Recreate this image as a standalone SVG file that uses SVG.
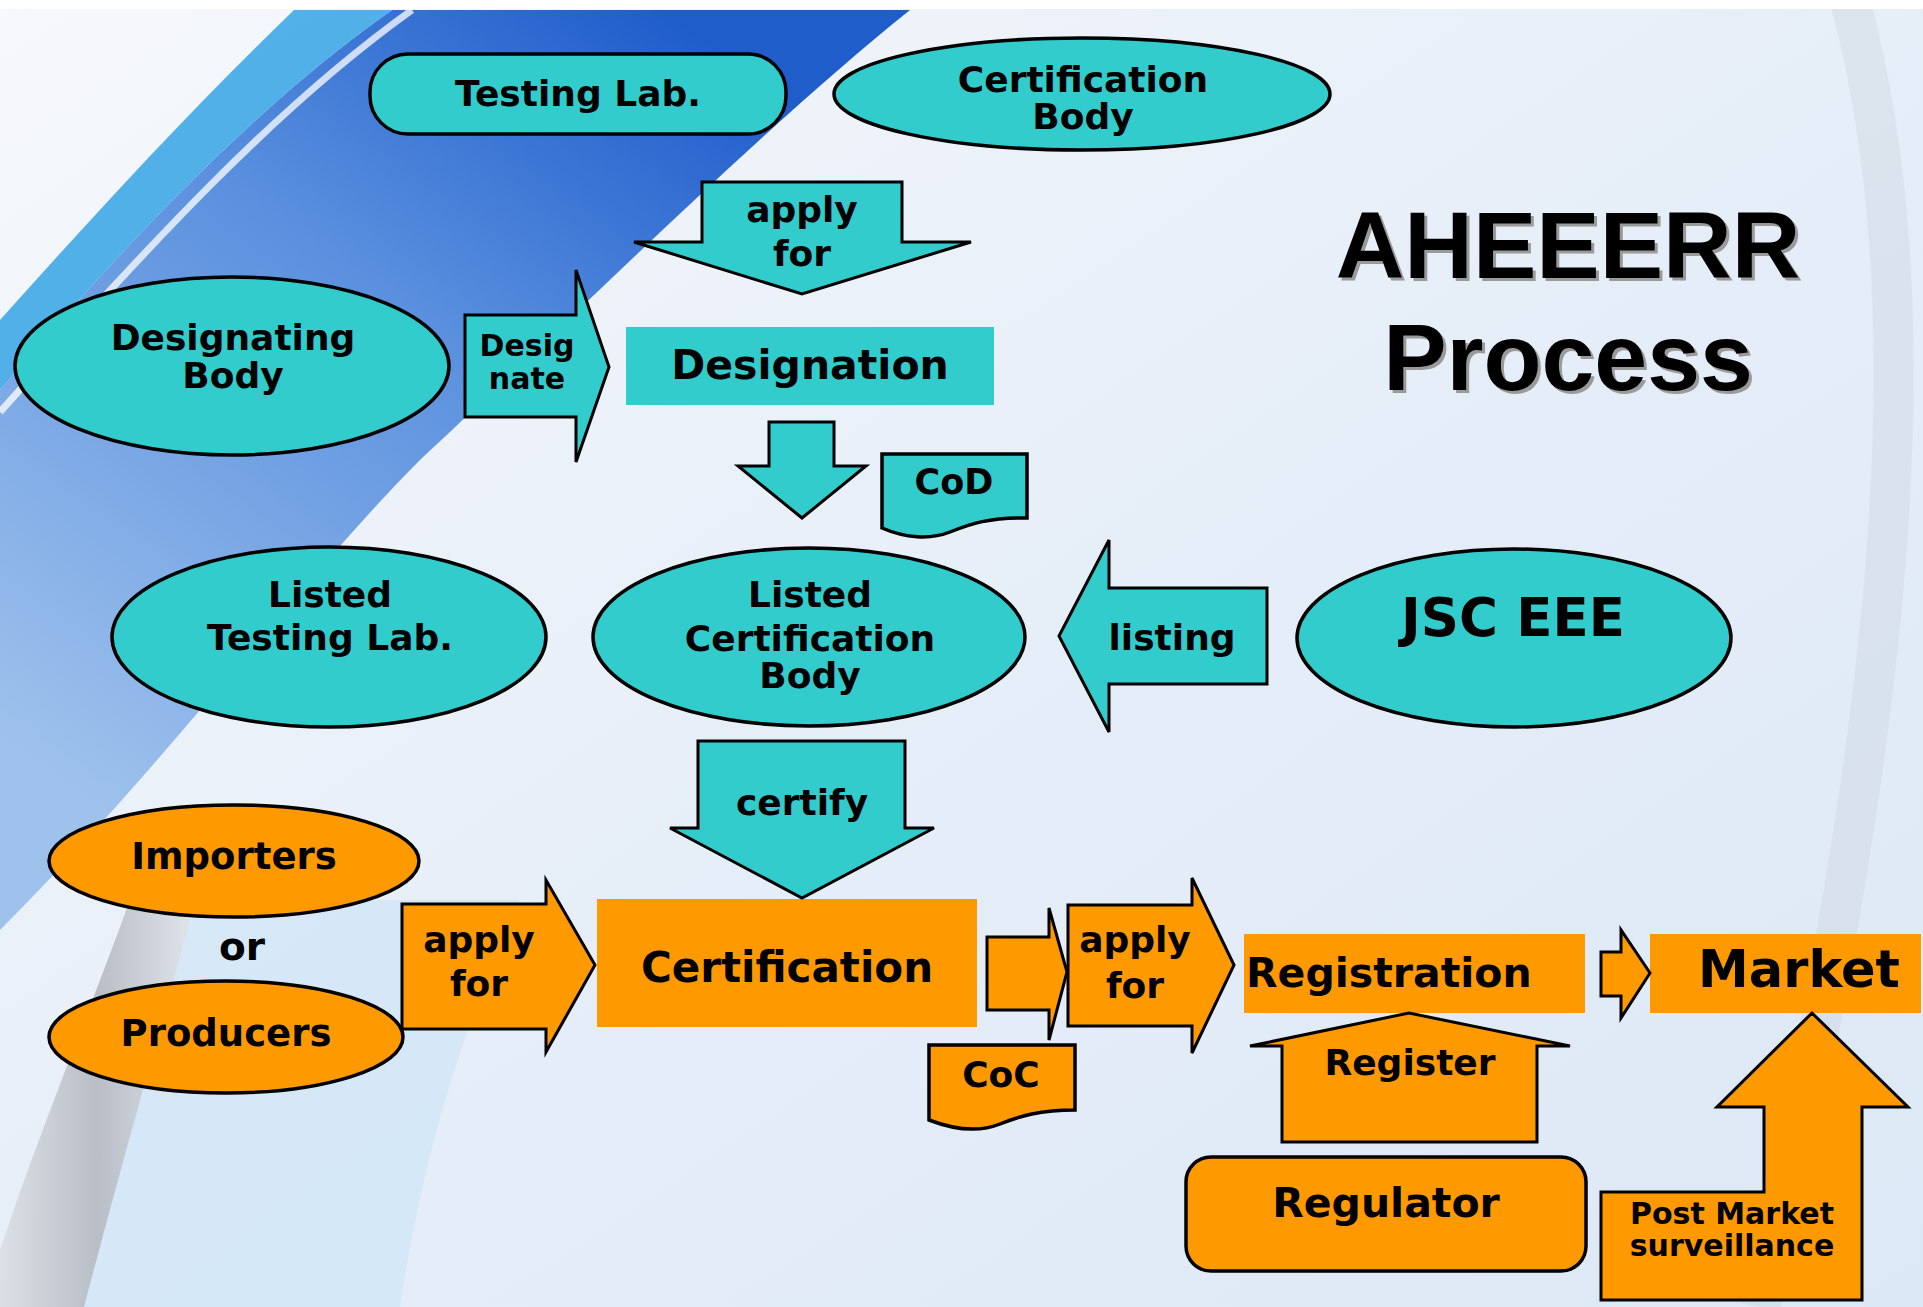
<svg xmlns="http://www.w3.org/2000/svg" width="1923" height="1307" viewBox="0 0 1923 1307">
<defs>
<linearGradient id="bgBase" x1="0" y1="0" x2="1" y2="1">
<stop offset="0" stop-color="#F6F8FB"/>
<stop offset="0.5" stop-color="#E6EEF8"/>
<stop offset="1" stop-color="#DCE8F5"/>
</linearGradient>
<linearGradient id="blueBand" x1="650" y1="0" x2="80" y2="800" gradientUnits="userSpaceOnUse">
<stop offset="0" stop-color="#1F5DCB"/>
<stop offset="0.4" stop-color="#5A90DE"/>
<stop offset="1" stop-color="#9FC2EC"/>
</linearGradient>
<linearGradient id="greyBand" x1="0" y1="0" x2="1" y2="0">
<stop offset="0" stop-color="#D8DBE0"/>
<stop offset="0.5" stop-color="#A9AEB6"/>
<stop offset="1" stop-color="#DDE2E8"/>
</linearGradient>
<style>
.t{fill:#33CCCC}
.o{fill:#FF9900}
.s{stroke:#000;stroke-width:3.5;stroke-linejoin:miter}
.a{stroke:#000;stroke-width:3;stroke-linejoin:miter}
.lb{font-family:"DejaVu Sans",Verdana,sans-serif;font-weight:bold;fill:#000;text-anchor:middle}
.f36{font-size:36px}
.f30{font-size:30px}
.title{font-family:"Liberation Sans",Arial,sans-serif;font-weight:bold;font-size:95px;text-anchor:middle}
</style>
</defs>

<g id="background">
<rect x="0" y="0" width="1923" height="1307" fill="url(#bgBase)"/>
<path d="M 392,10 L 910,10 C 760,130 560,330 420,460 C 300,580 170,760 0,930 L 0,390 C 120,250 250,110 392,10 Z" fill="url(#blueBand)"/>
<path d="M 294,10 L 392,10 C 250,110 120,250 0,390 L 0,320 C 90,220 180,120 294,10 Z" fill="#3FA9E6" opacity="0.9"/>
<path d="M 412,10 C 265,115 135,262 0,412" fill="none" stroke="#FFFFFF" stroke-width="7" opacity="0.75"/>
<path d="M 196,900 C 160,1030 120,1170 84,1307 L 400,1307 C 420,1170 460,1030 520,900 Z" fill="#CFE6F6" opacity="0.7"/>
<path d="M 130,900 L 196,900 C 160,1030 120,1170 84,1307 L 0,1307 L 0,1250 C 40,1130 90,1010 130,900 Z" fill="url(#greyBand)" opacity="0.75"/>
<path d="M 1850,0 C 1930,300 1900,700 1760,1307" fill="none" stroke="#C9D0D9" stroke-width="40" opacity="0.35"/>
<rect x="0" y="0" width="1923" height="9" fill="#FFFFFF"/>
</g>

<g id="title">
<text class="title" x="1571" y="281" fill="#9A9A9A">AHEEERR</text>
<text class="title" x="1568" y="278" fill="#000">AHEEERR</text>
<text class="title" x="1571" y="393" fill="#9A9A9A">Process</text>
<text class="title" x="1568" y="390" fill="#000">Process</text>
</g>

<g id="node-testing-lab">
<rect class="t s" x="370" y="54" width="416" height="80" rx="38"/>
<text class="lb f36" x="578" y="106">Testing Lab.</text>
</g>

<g id="node-certification-body">
<ellipse class="t s" cx="1082" cy="94" rx="248" ry="56"/>
<text class="lb f36" x="1083" y="92">Certification</text>
<text class="lb f36" x="1083" y="129">Body</text>
</g>

<g id="node-designating-body">
<ellipse class="t s" cx="232" cy="366" rx="217" ry="89"/>
<text class="lb f36" x="233" y="350">Designating</text>
<text class="lb f36" x="233" y="388">Body</text>
</g>

<g id="node-designation">
<rect class="t" x="626" y="327" width="368" height="78"/>
<text class="lb" font-size="41" x="810" y="379">Designation</text>
</g>

<g id="node-cod">
<path class="t s" d="M 882,454 L 1027,454 L 1027,518 C 990,517 970,524 950,532 C 930,540 905,538 882,528 Z"/>
<text class="lb" font-size="35" x="954" y="494">CoD</text>
</g>

<g id="node-listed-testing-lab">
<ellipse class="t s" cx="329" cy="637" rx="217" ry="90"/>
<text class="lb f36" x="330" y="607">Listed</text>
<text class="lb f36" x="330" y="650">Testing Lab.</text>
</g>

<g id="node-listed-certification-body">
<ellipse class="t s" cx="809" cy="637" rx="216" ry="89"/>
<text class="lb f36" x="810" y="607">Listed</text>
<text class="lb f36" x="810" y="651">Certification</text>
<text class="lb f36" x="810" y="688">Body</text>
</g>

<g id="node-jsc-eee">
<ellipse class="t s" cx="1514" cy="638" rx="217" ry="89"/>
<text class="lb" font-size="53" x="1513" y="636">JSC EEE</text>
</g>

<g id="node-importers">
<ellipse class="o s" cx="234" cy="861" rx="185" ry="56"/>
<text class="lb" font-size="37" x="234" y="869">Importers</text>
</g>

<g id="node-or">
<text class="lb" font-size="39" x="242" y="960">or</text>
</g>

<g id="node-producers">
<ellipse class="o s" cx="226" cy="1037" rx="177" ry="56"/>
<text class="lb" font-size="37" x="226" y="1046">Producers</text>
</g>

<g id="node-certification">
<rect class="o" x="597" y="899" width="380" height="128"/>
<text class="lb" font-size="42" x="787" y="982">Certification</text>
</g>

<g id="node-coc">
<path class="o s" d="M 929,1045 L 1075,1045 L 1075,1110 C 1040,1110 1020,1116 1000,1124 C 980,1132 955,1130 929,1120 Z"/>
<text class="lb" font-size="36" x="1001" y="1087">CoC</text>
</g>

<g id="node-registration">
<rect class="o" x="1244" y="934" width="341" height="79"/>
<text class="lb" font-size="41" x="1246" y="987" style="text-anchor:start">Registration</text>
</g>

<g id="node-market">
<rect class="o" x="1650" y="934" width="271" height="79"/>
<text class="lb" font-size="51" x="1799" y="987">Market</text>
</g>

<g id="node-regulator">
<rect class="o s" x="1186" y="1157" width="400" height="114" rx="25"/>
<text class="lb" font-size="41" x="1386" y="1217">Regulator</text>
</g>

<g id="connectors">
<g id="arrow-apply-for-designation">
<polygon class="t a" points="702,182 902,182 902,242 971,242 802,294 634,242 702,242"/>
<text class="lb f36" x="802" y="222">apply</text>
<text class="lb f36" x="802" y="266">for</text>
</g>
<g id="arrow-designate">
<polygon class="t a" points="465,315 576,315 576,270 609,367 576,462 576,417 465,417"/>
<text class="lb f30" x="527" y="356">Desig</text>
<text class="lb f30" x="527" y="389">nate</text>
</g>
<g id="arrow-designation-to-listed">
<polygon class="t a" points="769,422 834,422 834,466 866,466 802,518 738,466 769,466"/>
</g>
<g id="arrow-listing">
<polygon class="t a" points="1267,588 1109,588 1109,540 1059,636 1109,732 1109,684 1267,684"/>
<text class="lb f36" x="1172" y="650">listing</text>
</g>
<g id="arrow-certify">
<polygon class="t a" points="698,741 905,741 905,828 934,828 802,898 670,828 698,828"/>
<text class="lb f36" x="802" y="815">certify</text>
</g>
<g id="arrow-apply-for-certification">
<polygon class="o a" points="402,904 546,904 546,880 595,965 546,1052 546,1029 402,1029"/>
<text class="lb f36" x="479" y="952">apply</text>
<text class="lb f36" x="479" y="996">for</text>
</g>
<g id="arrow-certification-to-apply">
<polygon class="o a" points="987,937 1049,937 1049,908 1067,972 1049,1040 1049,1010 987,1010"/>
</g>
<g id="arrow-apply-for-registration">
<polygon class="o a" points="1068,905 1192,905 1192,878 1234,965 1192,1053 1192,1026 1068,1026"/>
<text class="lb f36" x="1135" y="952">apply</text>
<text class="lb f36" x="1135" y="998">for</text>
</g>
<g id="arrow-registration-to-market">
<polygon class="o a" points="1601,952 1621,952 1621,930 1650,973 1621,1018 1621,996 1601,996"/>
</g>
<g id="arrow-register">
<polygon class="o a" points="1282,1142 1537,1142 1537,1046 1570,1046 1409,1013 1250,1046 1282,1046"/>
<text class="lb f36" x="1410" y="1075">Register</text>
</g>
<g id="arrow-post-market-surveillance">
<polygon class="o a" points="1601,1192 1764,1192 1764,1107 1717,1107 1812,1013 1908,1107 1862,1107 1862,1300 1601,1300"/>
<text class="lb" font-size="30" x="1732" y="1224">Post Market</text>
<text class="lb" font-size="30" x="1732" y="1256">surveillance</text>
</g>
</g>
</svg>
